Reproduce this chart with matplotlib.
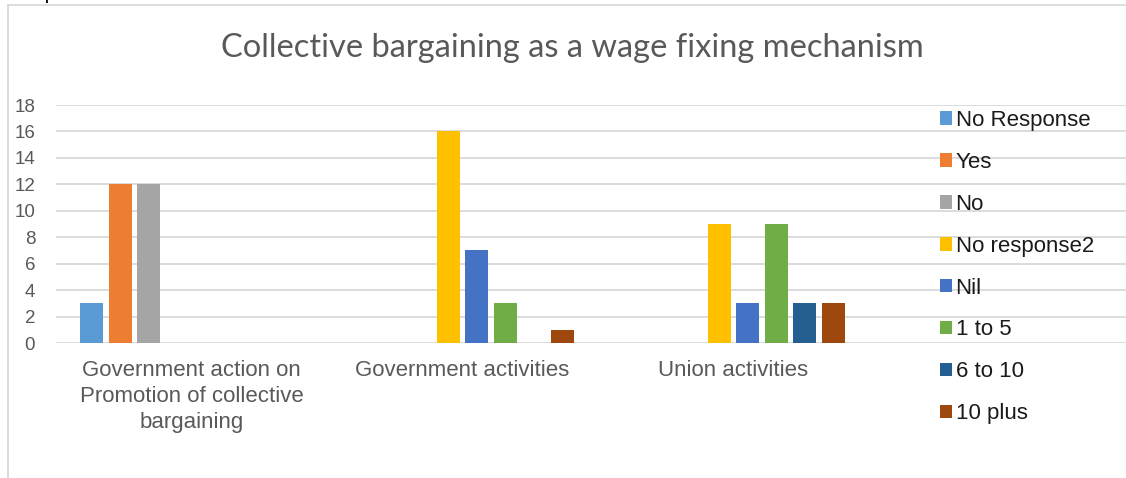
import matplotlib
matplotlib.use('Agg')
import matplotlib.pyplot as plt
import numpy as np

# Survey responses per category
categories = ['Government action on\nPromotion of collective\nbargaining',
              'Government activities', 'Union activities']
series_names = ['No Response', 'Yes', 'No', 'No response2', 'Nil',
                '1 to 5', '6 to 10', '10 plus']
no_response = [3, 0, 0]
yes = [12, 0, 0]
no = [12, 0, 0]
no_response2 = [0, 16, 9]
nil = [0, 7, 3]
one_to_five = [0, 3, 9]
six_to_ten = [0, 0, 3]
ten_plus = [0, 1, 3]
series_values = [no_response, yes, no, no_response2, nil,
                 one_to_five, six_to_ten, ten_plus]
colors = ['#5B9BD5', '#ED7D31', '#A5A5A5', '#FFC000', '#4472C4',
          '#70AD47', '#255E91', '#9E480E']
y_ticks = list(range(0, 20, 2))

plt.rcParams['font.family'] = ['Liberation Sans', 'DejaVu Sans']

fig = plt.figure(figsize=(11.26, 4.78), dpi=100)
ax = fig.add_axes([56 / 1126, 1 - 343 / 478, 1 - 56 / 1126, (343 - 105) / 478])

x = np.arange(len(categories))
slot = 0.105
width = 0.085
for i, (name, vals, c) in enumerate(zip(series_names, series_values, colors)):
    vals = [v if v else np.nan for v in vals]
    ax.bar(x + (i - 3.5) * slot, vals, width, color=c, label=name, zorder=3)

ax.set_xlim(-0.5, -0.5 + 1070 / 271)
ax.set_ylim(0, 18)
ax.set_yticks(y_ticks)
ax.yaxis.grid(True, color='#d9d9d9', lw=1.3, zorder=0)
ax.set_axisbelow(True)
for s in ax.spines.values():
    s.set_visible(False)
ax.tick_params(axis='both', length=0, colors='#595959')
ax.tick_params(axis='y', pad=15, labelsize=13.5)
ax.tick_params(axis='x', pad=12, labelsize=16)
ax.set_xticks(x)
ax.set_xticklabels(categories, linespacing=1.31, va='top')

leg = ax.legend(loc='upper left', bbox_to_anchor=(940 / 1126, 1 - 110 / 478),
                bbox_transform=fig.transFigure, frameon=False, fontsize=16,
                handlelength=0.55, handleheight=0.55, handletextpad=0.15,
                labelspacing=0.94, borderaxespad=0, borderpad=0)
for t in leg.get_texts():
    t.set_color('#1a1a1a')

fig.text(0.508, 1 - 48 / 478, 'Collective bargaining as a wage fixing mechanism',
         ha='center', va='center', fontsize=23.5, color='#595959', family='Lato')

# chart frame and clipped caption above it
fig.add_artist(plt.Line2D([8 / 1126, 8 / 1126], [0, 1 - 5 / 478], color='#d9d9d9',
                          lw=1.3, transform=fig.transFigure))
fig.add_artist(plt.Line2D([8 / 1126, 1], [1 - 5 / 478, 1 - 5 / 478], color='#d9d9d9',
                          lw=1.3, transform=fig.transFigure))
fig.text(10 / 1126, 1 + 6 / 478, 'Graph 14.4', ha='left', va='center',
         fontsize=15, color='black')

fig.savefig('out.png', dpi=100)
